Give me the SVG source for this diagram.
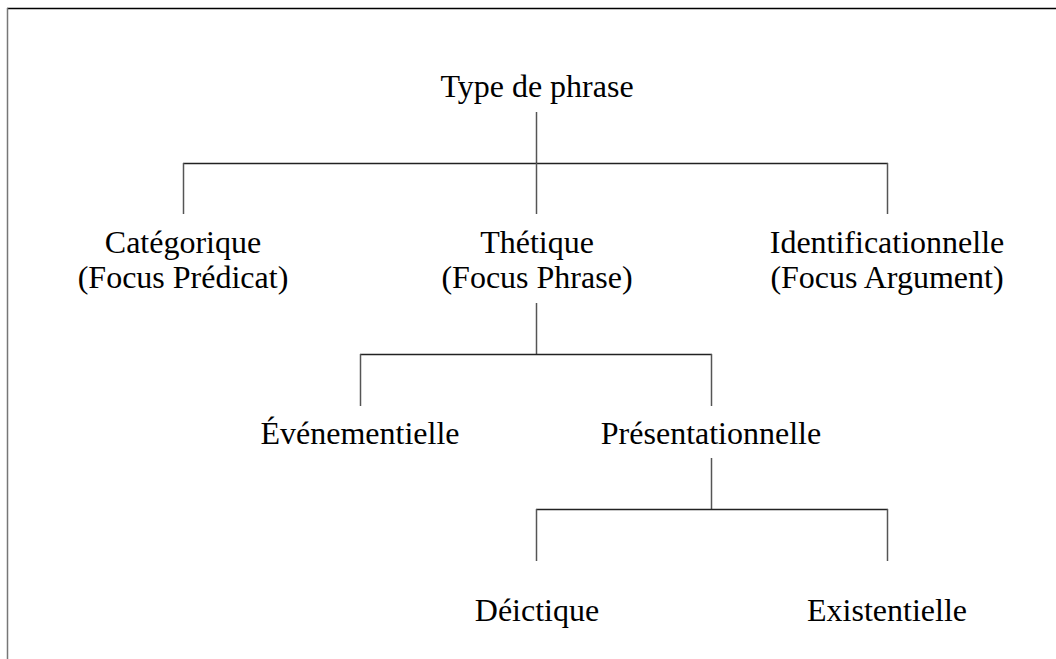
<svg xmlns="http://www.w3.org/2000/svg" width="1056" height="659" viewBox="0 0 1056 659">
<style>
text{font-family:"Liberation Serif","Times New Roman",serif;font-size:32px;fill:#000;text-anchor:middle}
.c line{stroke:#555;stroke-width:1.5}
.c line.h{stroke:#222}
</style>
<rect width="1056" height="659" fill="#fff"/>
<line x1="7" y1="8.5" x2="1056" y2="8.5" stroke="#000" stroke-width="1.5"/>
<line x1="7.5" y1="8" x2="7.5" y2="659" stroke="#777" stroke-width="1.5"/>
<g class="c" id="connectors">
<line x1="536.5" y1="112" x2="536.5" y2="163"/>
<line class="h" x1="183" y1="163.5" x2="888" y2="163.5"/>
<line x1="183.5" y1="163" x2="183.5" y2="214"/>
<line x1="536.5" y1="163" x2="536.5" y2="214"/>
<line x1="887.5" y1="163" x2="887.5" y2="214"/>
<line x1="536.5" y1="303" x2="536.5" y2="354"/>
<line class="h" x1="360" y1="354.5" x2="712" y2="354.5"/>
<line x1="360.5" y1="354" x2="360.5" y2="406"/>
<line x1="711.5" y1="354" x2="711.5" y2="406"/>
<line x1="711.5" y1="458" x2="711.5" y2="509"/>
<line class="h" x1="536" y1="509.5" x2="888" y2="509.5"/>
<line x1="536.5" y1="509" x2="536.5" y2="561"/>
<line x1="887.5" y1="509" x2="887.5" y2="561"/>
</g>
<g id="n-root"><text x="537" y="97">Type de phrase</text></g>
<g id="n-cat"><text x="183" y="253">Catégorique</text><text x="183" y="288">(Focus Prédicat)</text></g>
<g id="n-thet"><text x="537" y="253">Thétique</text><text x="537" y="288">(Focus Phrase)</text></g>
<g id="n-ident"><text x="887" y="253">Identificationnelle</text><text x="887" y="288">(Focus Argument)</text></g>
<g id="n-even"><text x="360" y="444">Événementielle</text></g>
<g id="n-pres"><text x="711" y="444">Présentationnelle</text></g>
<g id="n-deic"><text x="537" y="621">Déictique</text></g>
<g id="n-exist"><text x="887" y="621">Existentielle</text></g>
</svg>
